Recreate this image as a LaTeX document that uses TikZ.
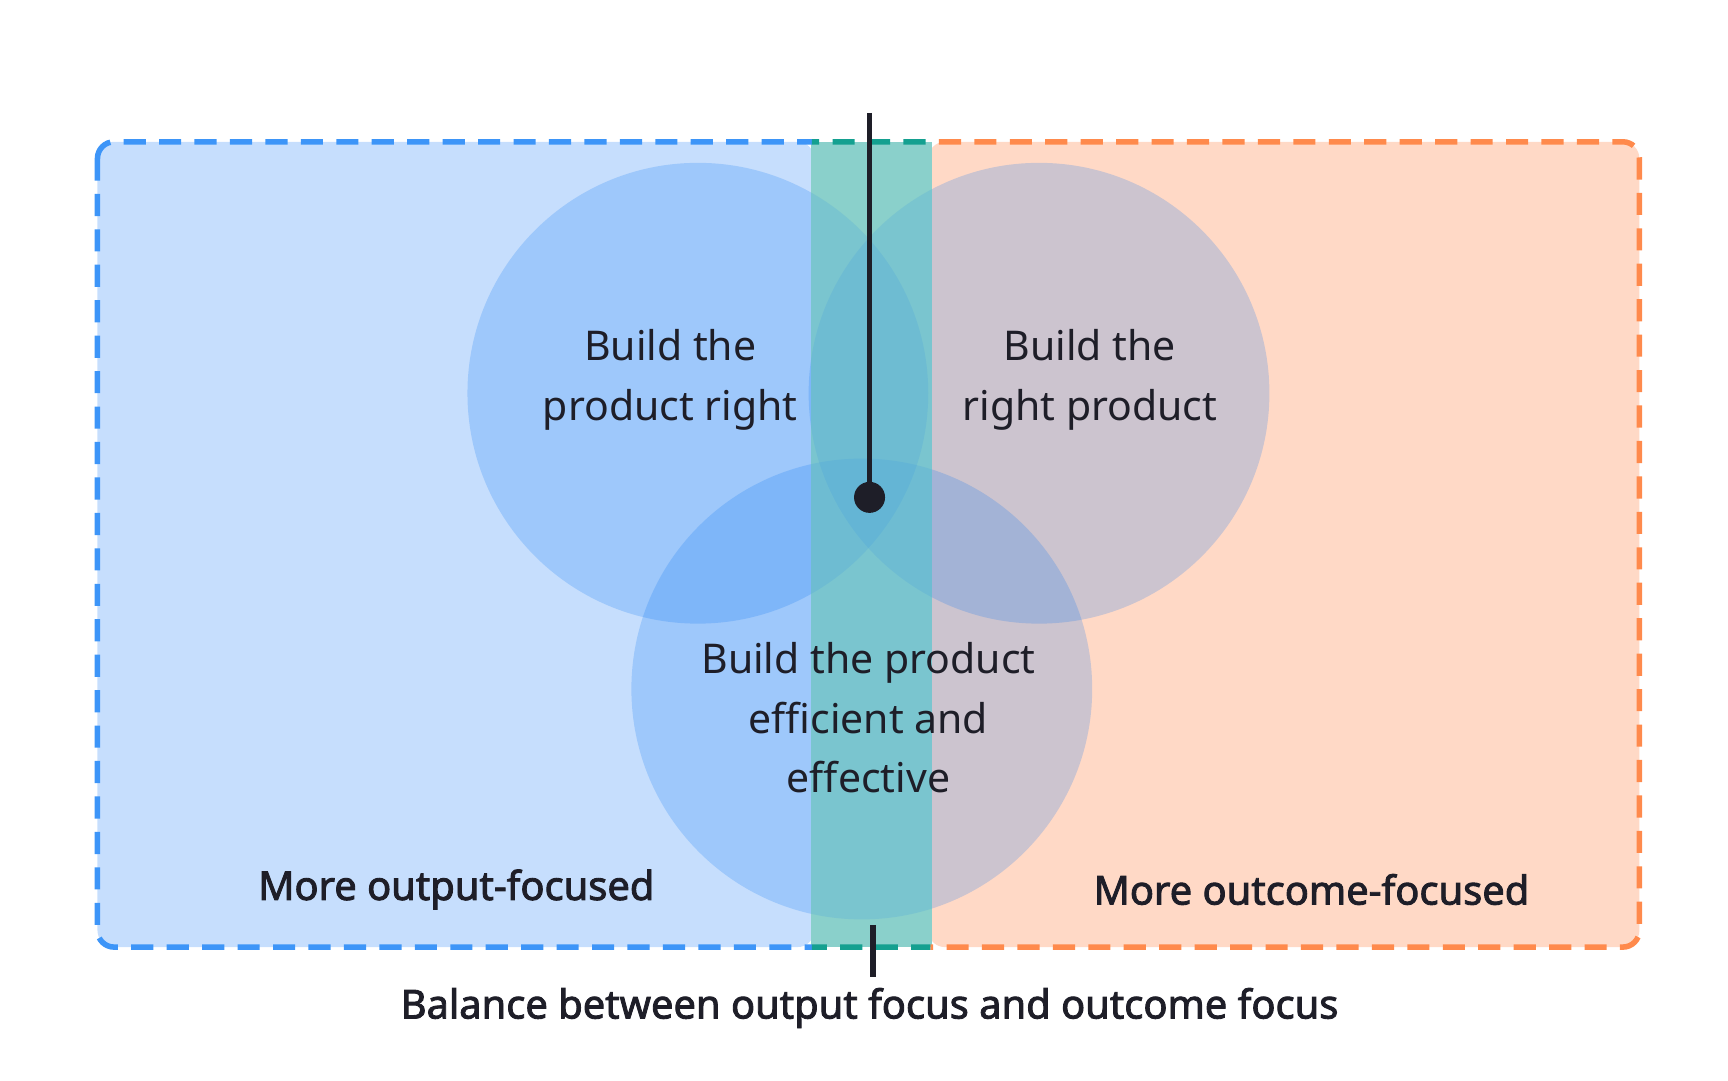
\documentclass[tikz,border=0pt]{standalone}
\usepackage{fontspec}
\setmainfont{Noto Sans}
\newfontfamily\boldf{Noto Sans}[FakeBold=2.2]
\definecolor{bluebg}{HTML}{C6DEFD}
\definecolor{blueln}{HTML}{3D95F8}
\definecolor{orbg}{HTML}{FFD9C6}
\definecolor{orln}{HTML}{FF8A4C}
\definecolor{teal}{HTML}{8AD0CB}
\definecolor{tealln}{HTML}{14A090}
\definecolor{circ}{RGB}{0,112,243}
\definecolor{ink}{HTML}{1E1E28}
\begin{document}
\begin{tikzpicture}[x=1pt,y=-1pt,
  dashline/.style={line width=5pt,dash pattern=on 20pt off 12pt},
  circstyle/.style={circle,fill=circ,fill opacity=0.2,minimum size=416pt,inner sep=0pt},
  lbl/.style={font=\fontsize{37}{54}\selectfont,text=ink,align=center},
  blbl/.style={font=\boldf\fontsize{36}{42}\selectfont,text=ink,align=center}]
\useasboundingbox (0,0) rectangle (1560,975);
\fill[bluebg,rounded corners=15pt] (88,128) -- (735,128) -- (735,855) -- (88,855) -- cycle;
\fill[orbg,rounded corners=15pt] (838,128) -- (1480,128) -- (1480,855) -- (838,855) -- cycle;
\fill[teal] (732,128) rectangle (841,855);
\begin{scope}
\clip (0,0) rectangle (733,975);
\draw[blueln,dashline,rounded corners=15pt] (88,128) rectangle (1480,855);
\end{scope}
\begin{scope}
\clip (840,0) rectangle (1560,975);
\draw[orln,dashline,rounded corners=15pt] (88,128) rectangle (1480,855);
\end{scope}
\begin{scope}
\clip (733,0) rectangle (840,975);
\draw[tealln,dashline,rounded corners=15pt] (88,128) rectangle (1480,855);
\end{scope}
\node[circstyle] (c1) at (630,355) {};
\node[circstyle] (c2) at (938,355) {};
\node[circstyle] (c3) at (778,622) {};
\fill[teal,opacity=0.45] (732,131) rectangle (841,852);
\node[lbl] (t1) at (605,343) {Build the\\product right};
\node[lbl] (t2) at (984,343) {Build the\\right product};
\node[lbl] (t3) at (784,648) {Build the product\\efficient and\\effective};
\node[blbl] (l1) at (412,803) {More output-focused};
\node[blbl] (l2) at (1184,803) {More outcome-focused};
\node[blbl] (l3) at (785,910) {Balance between output focus and outcome focus};
\coordinate (top) at (785,102);
\node[circle,fill=ink,minimum size=28pt,inner sep=0pt] (dot) at (785,449) {};
\draw[ink,line width=5pt] (top) -- (dot.center);
\coordinate (b1) at (788,835);
\coordinate (b2) at (788,882);
\draw[ink,line width=5pt] (b1) -- (b2);
\end{tikzpicture}
\end{document}
